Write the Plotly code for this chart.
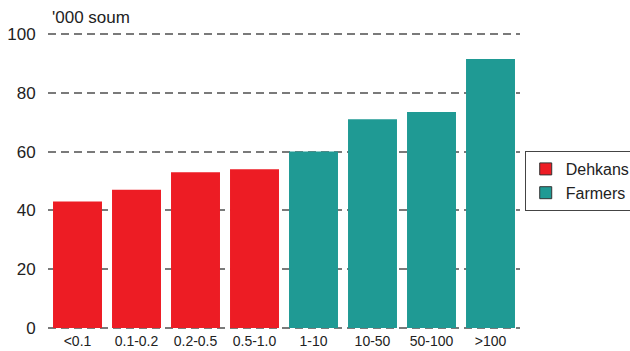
import plotly.graph_objects as go

categories = ["<0.1", "0.1-0.2", "0.2-0.5", "0.5-1.0", "1-10", "10-50", "50-100", ">100"]
dehkans_cats = categories[:4]
dehkans_vals = [43, 47, 53, 54]
farmers_cats = categories[4:]
farmers_vals = [60, 71, 73.5, 91.5]
y_ticks = [0, 20, 40, 60, 80, 100]

RED = "#ED1C24"
TEAL = "#1F9A94"

fig = go.Figure()
fig.add_trace(go.Bar(x=dehkans_cats, y=dehkans_vals, marker=dict(color=RED, line=dict(width=0)),
                     showlegend=False))
fig.add_trace(go.Bar(x=farmers_cats, y=farmers_vals, marker=dict(color=TEAL, line=dict(width=0)),
                     showlegend=False))
# legend entries with outlined swatches
fig.add_trace(go.Bar(x=[None], y=[None], name="Dehkans",
                     marker=dict(color=RED, line=dict(color="#333", width=1))))
fig.add_trace(go.Bar(x=[None], y=[None], name="Farmers",
                     marker=dict(color=TEAL, line=dict(color="#333", width=1))))

fig.update_layout(
    width=630, height=351,
    margin=dict(l=48, r=110, t=31, b=20, autoexpand=False),
    paper_bgcolor="white", plot_bgcolor="white",
    barmode="overlay", bargap=0.17,
    font=dict(family="Liberation Sans, Arial, sans-serif", color="#222"),
    showlegend=True,
    legend=dict(x=1.01, xanchor="left", y=0.5, yanchor="middle",
                bordercolor="#444", borderwidth=1, bgcolor="white",
                font=dict(size=16, color="#222"),
                tracegroupgap=0, itemwidth=30),
    xaxis=dict(categoryorder="array", categoryarray=categories,
               range=[-0.5, 7.5], showgrid=False, showline=False,
               ticks="", tickfont=dict(size=14, color="#222")),
    yaxis=dict(range=[-1, 101], tickvals=y_ticks, showgrid=True,
               gridcolor="#7a7a7a", gridwidth=1.5, griddash="8px,5px",
               zeroline=False, showline=False,
               ticks="outside", ticklen=8, tickcolor="rgba(0,0,0,0)",
               tickfont=dict(size=17, color="#222")),
    annotations=[dict(text="'000 soum", xref="paper", yref="paper", x=0.004, y=1.0,
                      xanchor="left", yanchor="bottom", yshift=2, showarrow=False,
                      font=dict(size=17, color="#222"))],
)

fig.write_html("out.html")
